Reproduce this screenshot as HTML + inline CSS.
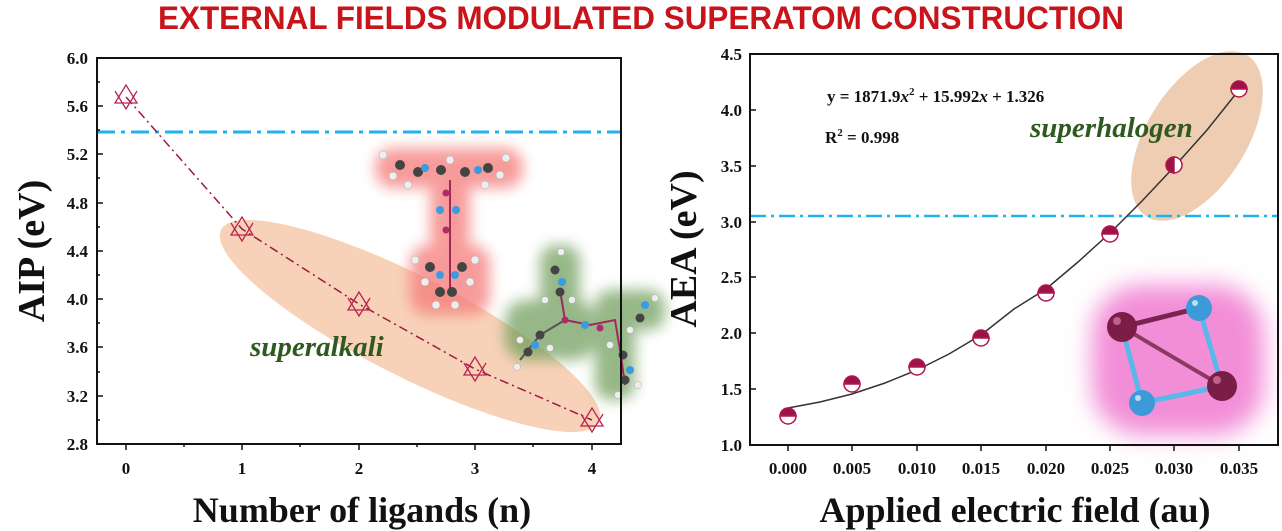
<!DOCTYPE html>
<html><head><meta charset="utf-8"><style>
html,body{margin:0;padding:0;background:#fff;}
svg{display:block;}
text{font-family:"Liberation Serif",serif;font-weight:bold;}
</style></head><body>
<svg width="1282" height="531" viewBox="0 0 1282 531" xmlns="http://www.w3.org/2000/svg">
<defs>
<filter id="bl" x="-50%" y="-50%" width="200%" height="200%"><feGaussianBlur stdDeviation="7"/></filter>
<filter id="bl2" x="-50%" y="-50%" width="200%" height="200%"><feGaussianBlur stdDeviation="12"/></filter>
</defs>
<text x="641" y="29" text-anchor="middle" font-size="32" fill="#c8141b" textLength="966" lengthAdjust="spacingAndGlyphs" style="font-family:'Liberation Sans',sans-serif;font-weight:bold">EXTERNAL FIELDS MODULATED SUPERATOM CONSTRUCTION</text>

<!-- LEFT PLOT -->
<ellipse cx="410" cy="326" rx="212" ry="50" transform="rotate(27 410 326)" fill="#f7cdb0" opacity="0.9"/>
<line x1="97" y1="132" x2="621" y2="132" stroke="#1fb3ec" stroke-width="3" stroke-dasharray="18,6,4,6"/>
<!-- red molecule -->
<g>
<g filter="url(#bl)" fill="#f47a78" opacity="0.75">
<rect x="375" y="148" width="148" height="40" rx="18"/>
<rect x="430" y="180" width="40" height="70" rx="15"/>
<rect x="410" y="245" width="80" height="70" rx="18"/>
</g>
<line x1="450" y1="180" x2="450" y2="290" stroke="#a0285a" stroke-width="2"/>
<g fill="#444"><circle cx="400" cy="165" r="5"/><circle cx="418" cy="172" r="5"/><circle cx="441" cy="170" r="5"/><circle cx="465" cy="172" r="5"/><circle cx="488" cy="168" r="5"/><circle cx="430" cy="267" r="5"/><circle cx="462" cy="267" r="5"/><circle cx="440" cy="292" r="5"/><circle cx="452" cy="292" r="5"/></g>
<g fill="#3a9be0"><circle cx="425" cy="168" r="4"/><circle cx="478" cy="170" r="4"/><circle cx="440" cy="210" r="4"/><circle cx="456" cy="210" r="4"/><circle cx="440" cy="275" r="4"/><circle cx="455" cy="275" r="4"/></g>
<g fill="#eee" stroke="#aaa" stroke-width="0.5"><circle cx="383" cy="155" r="4"/><circle cx="393" cy="176" r="4"/><circle cx="408" cy="185" r="4"/><circle cx="450" cy="160" r="4"/><circle cx="506" cy="158" r="4"/><circle cx="500" cy="175" r="4"/><circle cx="485" cy="185" r="4"/><circle cx="415" cy="260" r="4"/><circle cx="475" cy="260" r="4"/><circle cx="425" cy="282" r="4"/><circle cx="470" cy="282" r="4"/><circle cx="436" cy="305" r="4"/><circle cx="455" cy="305" r="4"/></g>
<g fill="#b02a6a"><circle cx="446" cy="193" r="3.5"/><circle cx="446" cy="230" r="3.5"/></g>
</g>
<!-- green molecule -->
<g>
<g filter="url(#bl)" fill="#6a9a55" opacity="0.7">
<rect x="540" y="245" width="40" height="90" rx="16"/>
<rect x="505" y="300" width="90" height="60" rx="20"/>
<rect x="595" y="290" width="40" height="110" rx="16"/>
<rect x="610" y="290" width="55" height="40" rx="16"/>
</g>
<polyline points="560,290 565,320 590,325 615,320 620,350 625,385" fill="none" stroke="#a0285a" stroke-width="2"/>
<polyline points="565,320 540,335 520,360" fill="none" stroke="#555" stroke-width="2"/>
<g fill="#444"><circle cx="555" cy="270" r="4.5"/><circle cx="560" cy="292" r="4.5"/><circle cx="540" cy="335" r="4.5"/><circle cx="528" cy="352" r="4.5"/><circle cx="623" cy="355" r="4.5"/><circle cx="625" cy="380" r="4.5"/><circle cx="640" cy="318" r="4.5"/></g>
<g fill="#3a9be0"><circle cx="562" cy="282" r="4"/><circle cx="585" cy="325" r="4"/><circle cx="535" cy="345" r="4"/><circle cx="630" cy="370" r="4"/><circle cx="645" cy="305" r="4"/></g>
<g fill="#eee" stroke="#aaa" stroke-width="0.5"><circle cx="561" cy="252" r="3.5"/><circle cx="545" cy="300" r="3.5"/><circle cx="572" cy="300" r="3.5"/><circle cx="520" cy="340" r="3.5"/><circle cx="517" cy="367" r="3.5"/><circle cx="550" cy="348" r="3.5"/><circle cx="610" cy="345" r="3.5"/><circle cx="618" cy="395" r="3.5"/><circle cx="638" cy="385" r="3.5"/><circle cx="655" cy="298" r="3.5"/><circle cx="630" cy="330" r="3.5"/></g>
<g fill="#b02a6a"><circle cx="565" cy="320" r="3.5"/><circle cx="600" cy="328" r="3.5"/></g>
</g>
<text x="250" y="356" font-size="29" fill="#2e5a1f" font-style="italic">superalkali</text>
<polyline points="126,97 242,229 359,304 475,369 592,420" fill="none" stroke="#9c1a40" stroke-width="1.5" stroke-dasharray="9,4,2,4"/>
<g fill="none" stroke="#b8244d" stroke-width="1.3">
<g transform="translate(126,97)"><path d="M-11,6 L0,-12 L11,6 Z"/><path d="M-11,-6 L0,12 L11,-6"/></g>
<g transform="translate(242,229)"><path d="M-11,6 L0,-12 L11,6 Z"/><path d="M-11,-6 L0,12 L11,-6"/></g>
<g transform="translate(359,304)"><path d="M-11,6 L0,-12 L11,6 Z"/><path d="M-11,-6 L0,12 L11,-6"/></g>
<g transform="translate(475,369)"><path d="M-11,6 L0,-12 L11,6 Z"/><path d="M-11,-6 L0,12 L11,-6"/></g>
<g transform="translate(592,420)"><path d="M-11,6 L0,-12 L11,6 Z"/><path d="M-11,-6 L0,12 L11,-6"/></g>
</g>
<rect x="97" y="58" width="524" height="386" fill="none" stroke="#111" stroke-width="2"/>
<g stroke="#111" stroke-width="1.5">
<line x1="97" y1="58" x2="103" y2="58"/><line x1="97" y1="106" x2="103" y2="106"/><line x1="97" y1="154" x2="103" y2="154"/><line x1="97" y1="203" x2="103" y2="203"/><line x1="97" y1="251" x2="103" y2="251"/><line x1="97" y1="299" x2="103" y2="299"/><line x1="97" y1="347" x2="103" y2="347"/><line x1="97" y1="396" x2="103" y2="396"/>
<line x1="97" y1="82" x2="100" y2="82"/><line x1="97" y1="130" x2="100" y2="130"/><line x1="97" y1="178" x2="100" y2="178"/><line x1="97" y1="227" x2="100" y2="227"/><line x1="97" y1="275" x2="100" y2="275"/><line x1="97" y1="323" x2="100" y2="323"/><line x1="97" y1="372" x2="100" y2="372"/><line x1="97" y1="420" x2="100" y2="420"/>
<line x1="126" y1="444" x2="126" y2="450"/><line x1="242" y1="444" x2="242" y2="450"/><line x1="359" y1="444" x2="359" y2="450"/><line x1="475" y1="444" x2="475" y2="450"/><line x1="592" y1="444" x2="592" y2="450"/>
<line x1="184" y1="444" x2="184" y2="447"/><line x1="300" y1="444" x2="300" y2="447"/><line x1="417" y1="444" x2="417" y2="447"/><line x1="533" y1="444" x2="533" y2="447"/>
</g>
<g font-size="17" fill="#111" text-anchor="end">
<text x="88" y="64">6.0</text><text x="88" y="112">5.6</text><text x="88" y="160">5.2</text><text x="88" y="209">4.8</text><text x="88" y="257">4.4</text><text x="88" y="305">4.0</text><text x="88" y="353">3.6</text><text x="88" y="402">3.2</text><text x="88" y="450">2.8</text>
</g>
<g font-size="17" fill="#111" text-anchor="middle">
<text x="126" y="474">0</text><text x="242" y="474">1</text><text x="359" y="474">2</text><text x="475" y="474">3</text><text x="592" y="474">4</text>
</g>
<text x="362" y="522" font-size="36" fill="#111" text-anchor="middle">Number of ligands (n)</text>
<text transform="translate(44,251) rotate(-90)" font-size="38" fill="#111" text-anchor="middle">AIP (eV)</text>

<!-- RIGHT PLOT -->
<ellipse cx="1197" cy="136" rx="95" ry="50" transform="rotate(-58 1197 136)" fill="#efcdb3"/>
<line x1="750" y1="216" x2="1278" y2="216" stroke="#1fb3ec" stroke-width="2.5" stroke-dasharray="16,5,3,5"/>
<!-- pink molecule -->
<g>
<g filter="url(#bl2)"><rect x="1092" y="285" width="172" height="150" rx="50" fill="#f07ad0" opacity="0.85"/></g>
<g stroke-width="5" stroke-linecap="round">
<line x1="1122" y1="327" x2="1199" y2="308" stroke="#7a2350"/>
<line x1="1199" y1="308" x2="1222" y2="386" stroke="#58b8ea"/>
<line x1="1222" y1="386" x2="1142" y2="403" stroke="#58b8ea"/>
<line x1="1142" y1="403" x2="1122" y2="327" stroke="#58b8ea"/>
<line x1="1122" y1="327" x2="1222" y2="386" stroke="#8a3a60" stroke-width="4"/>
</g>
<circle cx="1122" cy="327" r="15" fill="#7a1e48"/><circle cx="1117" cy="321" r="4" fill="#c06090"/>
<circle cx="1199" cy="308" r="13" fill="#3d9ad8"/><circle cx="1195" cy="303" r="3" fill="#bde"/>
<circle cx="1222" cy="386" r="15" fill="#7a1e48"/><circle cx="1217" cy="380" r="4" fill="#c06090"/>
<circle cx="1142" cy="403" r="13" fill="#3d9ad8"/><circle cx="1138" cy="398" r="3" fill="#bde"/>
</g>
<polyline points="788,408 820,402 852,394 885,383 917,370 949,354 981,335 1014,309 1046,289 1078,262 1110,233 1142,201 1174,167 1207,130 1239,90" fill="none" stroke="#333" stroke-width="1.5"/>
<g stroke="#b0154f" stroke-width="1.5">
<g transform="translate(788,416)"><path d="M-8,0 A8,8 0 0 1 8,0 Z" fill="#9c1348"/><path d="M-8,0 A8,8 0 0 0 8,0 Z" fill="#fff"/></g>
<g transform="translate(852,384)"><path d="M-8,0 A8,8 0 0 1 8,0 Z" fill="#9c1348"/><path d="M-8,0 A8,8 0 0 0 8,0 Z" fill="#fff"/></g>
<g transform="translate(917,367)"><path d="M-8,0 A8,8 0 0 1 8,0 Z" fill="#9c1348"/><path d="M-8,0 A8,8 0 0 0 8,0 Z" fill="#fff"/></g>
<g transform="translate(981,338)"><path d="M-8,0 A8,8 0 0 1 8,0 Z" fill="#9c1348"/><path d="M-8,0 A8,8 0 0 0 8,0 Z" fill="#fff"/></g>
<g transform="translate(1046,293)"><path d="M-8,0 A8,8 0 0 1 8,0 Z" fill="#9c1348"/><path d="M-8,0 A8,8 0 0 0 8,0 Z" fill="#fff"/></g>
<g transform="translate(1110,234)"><path d="M-8,0 A8,8 0 0 1 8,0 Z" fill="#9c1348"/><path d="M-8,0 A8,8 0 0 0 8,0 Z" fill="#fff"/></g>
<g transform="translate(1174,165)"><path d="M0,-8 A8,8 0 0 0 0,8 Z" fill="#9c1348"/><path d="M0,-8 A8,8 0 0 1 0,8 Z" fill="#fff"/></g>
<g transform="translate(1239,89)"><path d="M-8,0 A8,8 0 0 1 8,0 Z" fill="#9c1348"/><path d="M-8,0 A8,8 0 0 0 8,0 Z" fill="#fff"/></g>
</g>
<text x="827" y="102" font-size="17" fill="#111">y = 1871.9<tspan font-style="italic">x</tspan><tspan dy="-7" font-size="11">2</tspan><tspan dy="7"> + 15.992</tspan><tspan font-style="italic">x</tspan> + 1.326</text>
<text x="825" y="143" font-size="17" fill="#111">R<tspan dy="-7" font-size="11">2</tspan><tspan dy="7"> = 0.998</tspan></text>
<text x="1030" y="137" font-size="29" fill="#2e5a1f" font-style="italic">superhalogen</text>
<rect x="750" y="54" width="528" height="391" fill="none" stroke="#111" stroke-width="2"/>
<g stroke="#111" stroke-width="1.5">
<line x1="750" y1="54" x2="756" y2="54"/><line x1="750" y1="110" x2="756" y2="110"/><line x1="750" y1="166" x2="756" y2="166"/><line x1="750" y1="222" x2="756" y2="222"/><line x1="750" y1="277" x2="756" y2="277"/><line x1="750" y1="333" x2="756" y2="333"/><line x1="750" y1="389" x2="756" y2="389"/><line x1="750" y1="445" x2="756" y2="445"/>
<line x1="788" y1="445" x2="788" y2="451"/><line x1="852" y1="445" x2="852" y2="451"/><line x1="917" y1="445" x2="917" y2="451"/><line x1="981" y1="445" x2="981" y2="451"/><line x1="1046" y1="445" x2="1046" y2="451"/><line x1="1110" y1="445" x2="1110" y2="451"/><line x1="1174" y1="445" x2="1174" y2="451"/><line x1="1239" y1="445" x2="1239" y2="451"/>
</g>
<g font-size="17" fill="#111" text-anchor="end">
<text x="742" y="60">4.5</text><text x="742" y="116">4.0</text><text x="742" y="172">3.5</text><text x="742" y="228">3.0</text><text x="742" y="283">2.5</text><text x="742" y="339">2.0</text><text x="742" y="395">1.5</text><text x="742" y="451">1.0</text>
</g>
<g font-size="17" fill="#111" text-anchor="middle">
<text x="788" y="474">0.000</text><text x="852" y="474">0.005</text><text x="917" y="474">0.010</text><text x="981" y="474">0.015</text><text x="1046" y="474">0.020</text><text x="1110" y="474">0.025</text><text x="1174" y="474">0.030</text><text x="1239" y="474">0.035</text>
</g>
<text x="1015" y="522" font-size="36" fill="#111" text-anchor="middle">Applied electric field (au)</text>
<text transform="translate(696,249) rotate(-90)" font-size="38" fill="#111" text-anchor="middle">AEA (eV)</text>
</svg>
</body></html>
